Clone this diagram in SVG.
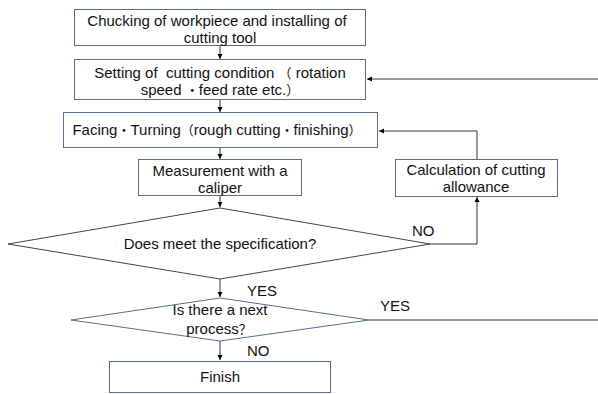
<svg xmlns="http://www.w3.org/2000/svg" width="598" height="394" viewBox="0 0 598 394">
<defs>
<marker id="ah" markerWidth="6" markerHeight="6" refX="5" refY="3" orient="auto" markerUnits="userSpaceOnUse">
<path d="M0,0.5 L5,3 L0,5.5 z" fill="#000"/>
</marker>
<style>
.box{fill:#fff;stroke:#5b6b88;stroke-width:1}
.dia{fill:#fff;stroke:#444;stroke-width:1}
.dia2{fill:#fff;stroke:#5b6b88;stroke-width:1}
.t{font-family:"Liberation Sans","Noto Sans CJK SC",Arial,sans-serif;font-size:15px;fill:#111;text-anchor:middle}
.l{font-family:"Liberation Sans",Arial,sans-serif;font-size:15px;fill:#111}
.c{fill:none;stroke:#333;stroke-width:1}
.cj{font-size:13px}
</style>
</defs>
<rect width="598" height="394" fill="#fff"/>
<g id="connectors">
<path class="c" d="M220,46 V59" marker-end="url(#ah)"/>
<path class="c" d="M220,100 V112" marker-end="url(#ah)"/>
<path class="c" d="M220,148 V159" marker-end="url(#ah)"/>
<path class="c" d="M220,196 V207" marker-end="url(#ah)"/>
<path class="c" d="M220,279 V297" marker-end="url(#ah)"/>
<path class="c" d="M220,341 V360" marker-end="url(#ah)"/>
<path class="c" d="M430,244 H477 V197" marker-end="url(#ah)"/>
<path class="c" d="M477,159 V131 H379" marker-end="url(#ah)"/>
<path class="c" d="M369,320 H598"/>
<path class="c" d="M598,79 H367" marker-end="url(#ah)"/>
<text class="l" x="412" y="236">NO</text>
<text class="l" x="247" y="296">YES</text>
<text class="l" x="380" y="311">YES</text>
<text class="l" x="247" y="356">NO</text>
</g>
<g id="n1">
<rect class="box" x="74.5" y="9.5" width="291" height="36"/>
<text class="t" x="217" y="26">Chucking of workpiece and installing of</text>
<text class="t" x="220" y="43">cutting tool</text>
</g>
<g id="n2">
<rect class="box" x="74.5" y="59.5" width="291" height="40"/>
<text class="t" x="220" y="78" xml:space="preserve">Setting of  cutting condition <tspan class="cj">（</tspan> rotation</text>
<text class="t" x="220" y="95">speed <tspan class="cj">・</tspan>feed rate etc.<tspan class="cj">）</tspan></text>
</g>
<g id="n3">
<rect class="box" x="63.5" y="112.5" width="314" height="35"/>
<text class="t" x="217" y="135">Facing<tspan class="cj">・</tspan>Turning<tspan class="cj">（</tspan>rough cutting<tspan class="cj">・</tspan>finishing<tspan class="cj">）</tspan></text>
</g>
<g id="n4">
<rect class="box" x="138.5" y="159.5" width="163" height="36"/>
<text class="t" x="220" y="176">Measurement with a</text>
<text class="t" x="220" y="193">caliper</text>
</g>
<g id="n5">
<rect class="box" x="395.5" y="159.5" width="162" height="37"/>
<text class="t" x="476" y="175">Calculation of cutting</text>
<text class="t" x="476" y="192">allowance</text>
</g>
<g id="n6">
<polygon class="dia" points="220,208 430,244 220,279 8,244"/>
<text class="t" x="220" y="249">Does meet the specification?</text>
</g>
<g id="n7">
<polygon class="dia2" points="220,298 369,320 220,341 71,320"/>
<text class="t" x="220" y="315">Is there a next</text>
<text class="t" x="219" y="334">process<tspan class="cj">？</tspan></text>
</g>
<g id="n8">
<rect class="box" x="109.5" y="361.5" width="221" height="31"/>
<text class="t" x="220" y="382">Finish</text>
</g>
</svg>
